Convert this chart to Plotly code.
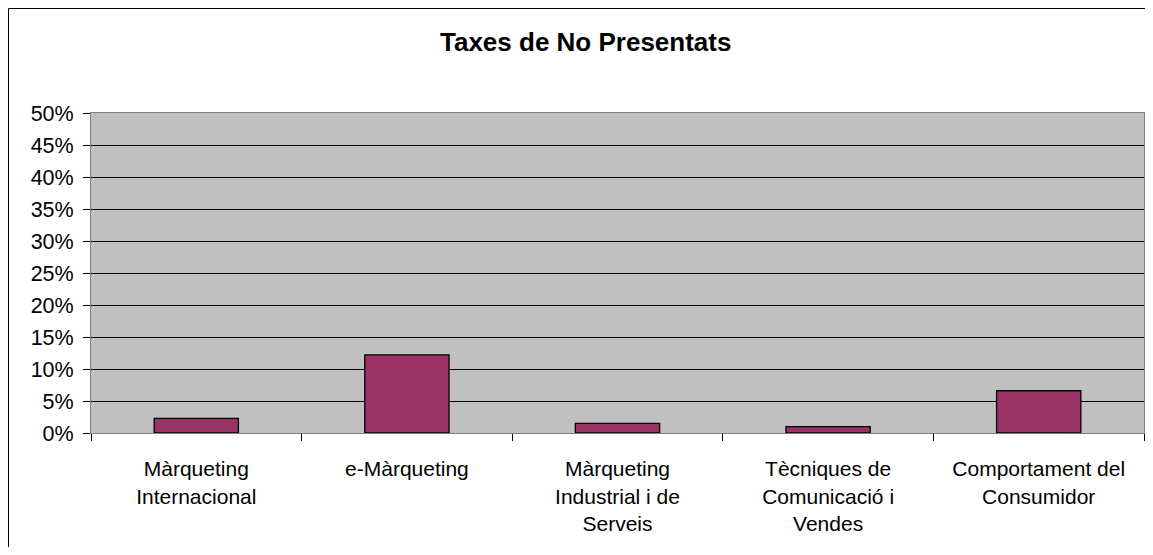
import plotly.graph_objects as go

categories = ["Màrqueting<br>Internacional", "e-Màrqueting", "Màrqueting<br>Industrial i de<br>Serveis",
              "Tècniques de<br>Comunicació i<br>Vendes", "Comportament del<br>Consumidor"]
values = [0.023, 0.122, 0.015, 0.010, 0.066]
y_ticks = [i * 0.05 for i in range(11)]
y_tick_labels = [f"{i*5}%" for i in range(11)]

# page has an 8px body margin; figure sized to fit the window without scrolling
OFF = 8
W, H = 1137, 539
L, R, T, B = 91 - OFF, 1, 113 - OFF, H - (433 - OFF)
pw = W - L - R
ph = H - T - B

fig = go.Figure(go.Bar(
    x=categories, y=values,
    marker=dict(color="#993366", line=dict(color="black", width=1.3)),
    width=0.4,
))

def px2x(p):  # screen px -> paper
    return (p - OFF - L) / pw

def px2y(p):
    return (H - B - (p - OFF)) / ph

fig.update_layout(
    width=W, height=H,
    margin=dict(l=L, r=R, t=T, b=B, pad=0),
    paper_bgcolor="white",
    plot_bgcolor="#C0C0C0",
    showlegend=False,
    font=dict(family="Liberation Sans, Arial", size=21, color="black"),
    xaxis=dict(
        tickson="boundaries", ticks="outside", ticklen=7, tickcolor="black",
        showline=True, linecolor="#808080", linewidth=1, mirror=True,
        showgrid=False, ticklabelstandoff=17, tickangle=0,
        tickfont=dict(size=21),
    ),
    yaxis=dict(
        range=[0, 0.5], tickvals=y_ticks, ticktext=y_tick_labels,
        ticks="outside", ticklen=7, tickcolor="black",
        showline=True, linecolor="#808080", linewidth=1, mirror=True,
        showgrid=True, gridcolor="black", gridwidth=1,
        zeroline=False, tickfont=dict(size=21.5), ticklabelstandoff=5,
    ),
    annotations=[dict(
        text="<b>Taxes de No Presentats</b>", xref="paper", yref="paper",
        x=px2x(585.5), y=px2y(42), xanchor="center", yanchor="middle",
        showarrow=False, font=dict(size=26, family="Liberation Sans, Arial"),
    )],
    shapes=[
        dict(type="line", xref="paper", yref="paper",
             x0=px2x(8.5), x1=px2x(1160), y0=px2y(8.5), y1=px2y(8.5),
             line=dict(color="black", width=1), layer="above"),
        dict(type="line", xref="paper", yref="paper",
             x0=px2x(8.5), x1=px2x(8.5), y0=px2y(8.5), y1=px2y(560),
             line=dict(color="black", width=1), layer="above"),
    ],
)

fig.write_html("out.html")
